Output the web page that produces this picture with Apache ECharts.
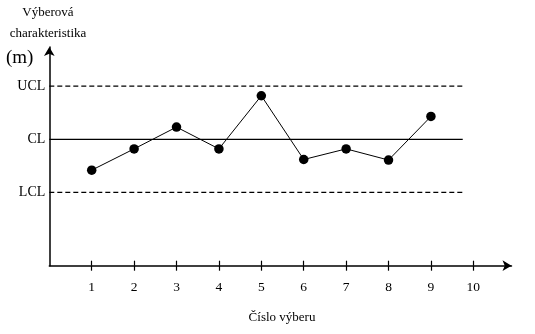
<!DOCTYPE html>
<html>
<head>
<meta charset="utf-8">
<script src="https://cdn.jsdelivr.net/npm/echarts@6/dist/echarts.min.js"></script>
<style>html,body{margin:0;padding:0;background:#fff}#c{width:535px;height:334px}</style>
</head>
<body>
<div id="c"></div>
<script>
const sampleNo = [1, 2, 3, 4, 5, 6, 7, 8, 9];
const values = [-0.58, -0.18, 0.23, -0.18, 0.82, -0.38, -0.18, -0.39, 0.43];
const limitNames = ['LCL', 'CL', 'UCL'];
const limitValues = [-1, 0, 1];
const xTickLabels = [1, 2, 3, 4, 5, 6, 7, 8, 9, 10];
const yTitle = ['Výberová', 'charakteristika'];
const yUnit = '(m)';
const xTitle = 'Číslo výberu';

const FONT = '"Liberation Serif", "Times New Roman", serif';
const chart = echarts.init(document.getElementById('c'), null, {renderer: 'canvas'});

const limitLines = limitValues.map((v, i) => ({
  type: 'line',
  data: [[0, v], [9.75, v]],
  symbol: 'none',
  silent: true,
  lineStyle: {color: '#000', width: 1.2, type: limitNames[i] === 'CL' ? 'solid' : [5, 3]},
  z: 1
}));

chart.setOption({
  animation: false,
  backgroundColor: '#fff',
  grid: {left: 49.3, right: 23.5, top: 47, bottom: 68.3},
  xAxis: [{
    type: 'value', min: 0, max: 10.90,
    axisLine: {show: true, onZero: false, lineStyle: {color: '#000', width: 1.5}, symbol: ['none', 'arrow'], symbolSize: [8, 9]},
    axisTick: {show: true, inside: false, length: 5, lineStyle: {color: '#000', width: 1.2}, customValues: xTickLabels},
    axisLabel: {show: true, customValues: xTickLabels, margin: 15, color: '#000', fontFamily: FONT, fontSize: 13.5},
    splitLine: {show: false}
  }, {
    type: 'value', min: 0, max: 10.90, position: 'bottom', offset: 0,
    axisLine: {show: false, onZero: false},
    axisTick: {show: true, inside: true, length: 5, lineStyle: {color: '#000', width: 1.2}, customValues: xTickLabels},
    axisLabel: {show: false},
    splitLine: {show: false}
  }],
  yAxis: {
    type: 'value', min: -2.378, max: 1.737,
    axisLine: {show: true, onZero: false, lineStyle: {color: '#000', width: 1.5}, symbol: ['none', 'arrow'], symbolSize: [8, 9]},
    axisTick: {show: false},
    axisLabel: {
      show: true, customValues: limitValues, margin: 4, color: '#000', fontFamily: FONT, fontSize: 14,
      formatter: v => { const i = limitValues.findIndex(x => Math.abs(x - v) < 1e-6); return i >= 0 ? limitNames[i] : ''; }
    },
    splitLine: {show: false}
  },
  graphic: [
    {type: 'text', style: {text: yTitle[0], x: 48, y: 13, textAlign: 'center', textVerticalAlign: 'middle', font: '13px ' + FONT, fill: '#000'}},
    {type: 'text', style: {text: yTitle[1], x: 48, y: 34, textAlign: 'center', textVerticalAlign: 'middle', font: '13px ' + FONT, fill: '#000'}},
    {type: 'text', style: {text: yUnit, x: 6, y: 58, textAlign: 'left', textVerticalAlign: 'middle', font: '19px ' + FONT, fill: '#000'}},
    {type: 'text', style: {text: xTitle, x: 282, y: 318, textAlign: 'center', textVerticalAlign: 'middle', font: '13px ' + FONT, fill: '#000'}}
  ],
  series: limitLines.concat([{
    type: 'line',
    data: sampleNo.map((s, i) => [s, values[i]]),
    symbol: 'circle', symbolSize: 9.5,
    itemStyle: {color: '#000'},
    lineStyle: {color: '#000', width: 1},
    z: 3
  }])
});
</script>
</body>
</html>
